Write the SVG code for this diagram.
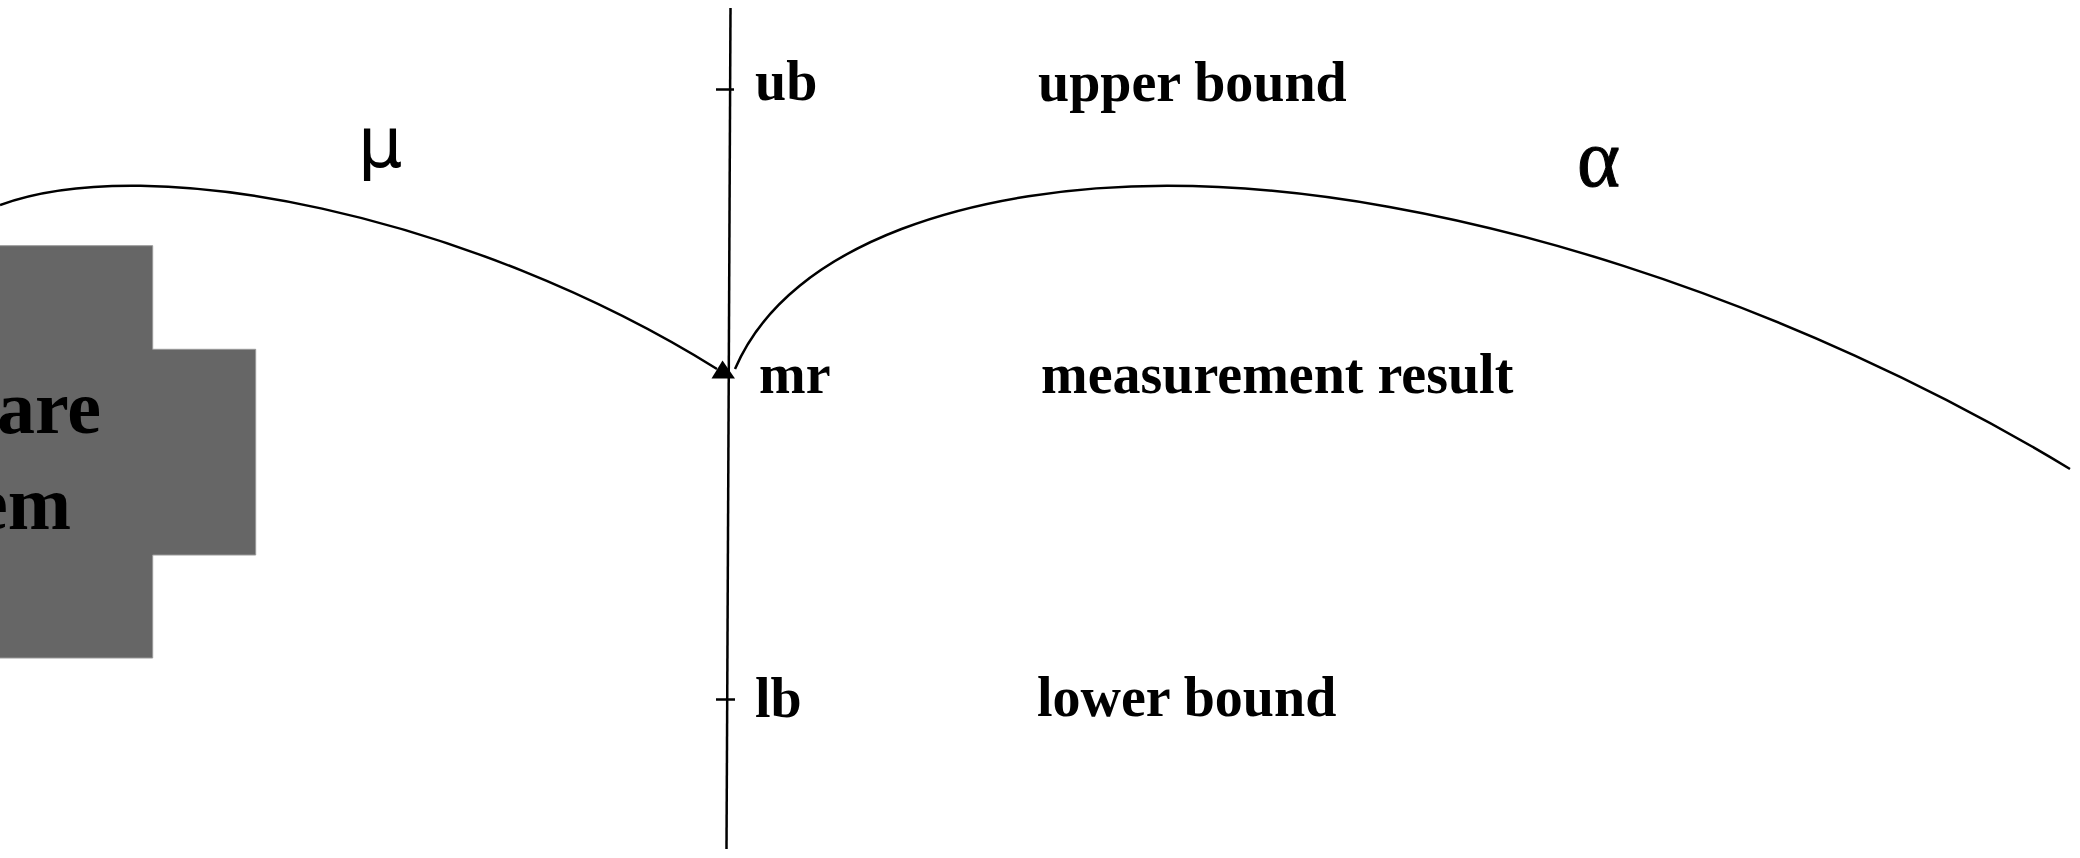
<svg xmlns="http://www.w3.org/2000/svg" width="2080" height="858" viewBox="0 0 2080 858">
<style>
.lbl{font-family:"Liberation Serif","Times New Roman",serif;font-weight:bold;font-size:56px;fill:#000}
.big{font-family:"Liberation Serif","Times New Roman",serif;font-weight:bold;font-size:76px;fill:#000}
.mu{font-family:"DejaVu Sans","Liberation Sans",sans-serif;font-size:70px;fill:#000}
.alpha{font-family:"Liberation Serif","Times New Roman",serif;font-size:82px;fill:#000;stroke:#000;stroke-width:1}
.ln{fill:none;stroke:#000;stroke-width:2.5;stroke-linejoin:round;stroke-linecap:butt}
</style>
<rect width="2080" height="858" fill="#fff"/>
<g id="system">
<path d="M-300,245.7 H152.7 V349.3 H255.7 V555 H152.7 V658 H-300 Z" fill="#666" stroke="#999" stroke-width="1"/>
<text class="big" x="101" y="433" text-anchor="end">are</text>
<text class="big" x="71" y="529" text-anchor="end">em</text>
</g>
<g id="axis">
<line class="ln" x1="730.5" y1="8" x2="726.5" y2="849" stroke-width="2.7"/>
<line class="ln" x1="716" y1="89.5" x2="734" y2="89.5"/>
<line class="ln" x1="716" y1="699.5" x2="735" y2="699.5"/>
</g>
<g id="labels">
<text class="lbl" x="755" y="100">ub</text>
<text class="lbl" x="1038" y="101">upper bound</text>
<text class="lbl" x="759" y="393">mr</text>
<text class="lbl" x="1041" y="393">measurement result</text>
<text class="lbl" x="755" y="717">lb</text>
<text class="lbl" x="1037" y="716">lower bound</text>
<text class="mu" x="358" y="167">μ</text>
<text class="alpha" x="1577" y="186">α</text>
</g>
<g id="connectors">
<path class="ln" d="M0,205 C150,150 470,215 717,369"/>
<polygon points="722.5,360.5 711.5,378.5 735,378.5" fill="#000"/>
<path class="ln" d="M735,369 C790,240 980,185.7 1167,185.7 C1450,185.7 1800,305 2070,469"/>
</g>
</svg>
